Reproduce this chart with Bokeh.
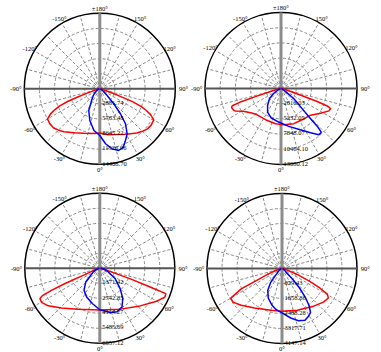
import numpy as np
from bokeh.plotting import figure
from bokeh.models import Range1d
from bokeh.core.properties import value
from bokeh.embed import file_html
from bokeh.resources import INLINE

# ---------------- data (candela vs. gamma angle, degrees) ----------------
labels_1 = ["2881.74", "5763.48", "8645.22", "11526.96", "14408.70"]
ang_red_1 = [-90, -80, -76, -73, -71, -69.5, -68.5, -67, -65, -63, -60, -55, -50, -45, -40, -30, -20, -10, 0,
             10, 20, 30, 40, 45, 50, 55, 60, 63, 65, 67, 68.5, 69.5, 71, 73, 76, 80, 90]
cd_red_1 = [140, 350, 600, 1200, 2560, 4500, 6500, 8300, 9500, 10550, 11530, 11640, 11550, 11150, 10700, 9700, 9050, 8650, 8450,
            8900, 9300, 10000, 11000, 11480, 11900, 12000, 11880, 10870, 9800, 8550, 6700, 4650, 2640, 1240, 620, 360, 140]
ang_blue_1 = [-90, -75, -60, -50, -45, -37.5, -27, -17.5, -8, 0, 6, 11.6, 17, 22, 26.4, 31.3, 36.3, 39.6, 43, 47.7, 55, 65, 90]
cd_blue_1 = [100, 300, 700, 1300, 1700, 2400, 4640, 6340, 8030, 8910, 10550, 11700, 12310, 11990, 11010, 10060, 8280, 6180,
             3910, 1890, 900, 400, 100]

labels_2 = ["2616.03", "5232.05", "7848.07", "10464.10", "13080.12"]
ang_red_2 = [-90, -82, -77, -74, -72.5, -71.5, -70.5, -69, -66, -64, -59, -50, -43, -34, -24, -9, 4, 20, 34, 48, 58, 65, 68,
             69.3, 70.3, 71.3, 73, 77, 82, 90]
cd_red_2 = [150, 300, 800, 2000, 4500, 7500, 8900, 9110, 9000, 8800, 7570, 6580, 6130, 5990, 5990, 6150, 6250, 6440, 6480,
            6860, 8020, 9110, 9210, 8500, 6500, 3500, 1500, 600, 300, 150]
ang_blue_2 = [-90, -70, -56, -48.6, -38.7, -29.7, -19, -4, 11.5, 25, 33.7, 39.3, 42.7, 43.7, 44.4, 46.4, 51.7, 54, 60, 90]
cd_blue_2 = [100, 400, 1540, 2620, 3690, 4660, 5320, 5790, 6650, 7850, 9160, 10300, 10220, 9180, 7270, 5020, 2790, 1280, 500, 100]

labels_3 = ["1371.42", "2742.85", "4114.27", "5485.69", "6857.12"]
ang_red_3 = [-90, -80, -72, -69, -67, -66.3, -65.5, -64.5, -63.2, -59.6, -54, -44, -28, 0, 27, 47, 60, 66, 69, 69.6, 71, 72,
             75, 80, 90]
cd_red_3 = [60, 150, 500, 900, 1540, 3520, 4860, 5800, 6130, 6170, 5840, 5040, 4240, 3820, 4190, 5040, 6010, 6500, 6470, 4910,
            2960, 1360, 500, 200, 60]
ang_blue_3 = [-90, -70, -60, -51.8, -45.7, -35.6, -24.7, -12, 0, 13.6, 22, 30, 37.3, 45, 55.8, 66, 80, 90]
cd_blue_3 = [50, 300, 700, 1070, 1800, 2480, 2880, 3290, 3790, 4150, 4280, 4060, 3470, 2630, 1710, 880, 360, 100]

labels_4 = ["829.43", "1658.86", "2488.28", "3317.71", "4147.14"]
ang_red_4 = [-90, -80, -72, -67.8, -64.5, -63.4, -60, -55.6, -48, -35, -15, 0, 20, 40, 51, 57.5, 60.5, 62.6, 65, 68.6, 72, 80, 90]
cd_red_4 = [40, 100, 400, 860, 1690, 2520, 3270, 3290, 3040, 2660, 2390, 2360, 2460, 2720, 2950, 3040, 2880, 2370, 1720, 900,
            300, 100, 40]
ang_blue_4 = [-90, -60, -50, -45, -42, -39, -33, -25, -16, -8, 0, 10, 17.5, 24, 29, 33, 36, 39, 42, 45, 48, 60, 90]
cd_blue_4 = [40, 150, 300, 400, 650, 1000, 1450, 1800, 2080, 2300, 2450, 2780, 3030, 3130, 3020, 2900, 2550, 2050, 1450, 800,
             300, 150, 40]

angle_ticks = [0, 30, 60, 90, 120, 150, 180, -150, -120, -90, -60, -30]
angle_texts = ["0°", "30°", "60°", "90°", "120°", "150°", "±180°", "-150°", "-120°", "-90°", "-60°", "-30°"]

FONT = value("Liberation Serif")
W, H = 381, 352

p = figure(width=W, height=H, output_backend="svg", toolbar_location=None, tools="",
           x_axis_location=None, y_axis_location=None, title=None, min_border=0,
           x_range=Range1d(0, W), y_range=Range1d(H, 0))
p.outline_line_color = None
p.background_fill_color = "white"
p.border_fill_color = "white"
p.xgrid.visible = False
p.ygrid.visible = False


def polar(cx, cy, R, ang, r):
    t = np.radians(np.asarray(ang, dtype=float))
    r = np.asarray(r, dtype=float) * R
    return cx + r * np.sin(t), cy + r * np.cos(t)


def panel(cx, cy, R, labels, ang_red, cd_red, ang_blue, cd_blue):
    rmax = float(labels[-1])
    rings = [float(s) / rmax for s in labels]

    # spokes every 15 degrees
    xs, ys = [], []
    for a in range(0, 360, 15):
        if a % 90 == 0:
            continue
        x1, y1 = polar(cx, cy, R, [a], [1.0])
        xs.append([cx, float(x1[0])])
        ys.append([cy, float(y1[0])])
    p.multi_line(xs, ys, line_color="#8a8a8a", line_dash="3 2", line_width=1)
    # dashed rings
    p.circle(x=[cx] * 4, y=[cy] * 4, radius=[r * R for r in rings[:-1]], fill_color=None,
             line_color="#8a8a8a", line_dash="3 2", line_width=1)
    # outer ring
    p.circle(x=[cx], y=[cy], radius=[rings[-1] * R], fill_color=None, line_color="black", line_width=1.5)
    # axes
    p.line([cx, cx], [cy - R, cy + R], line_color="#8c8c8c", line_width=3)
    p.line([cx - R, cx + R], [cy, cy], line_color="#555555", line_width=2)

    # curves
    xr, yr = polar(cx, cy, R, ang_red, np.array(cd_red) / rmax)
    p.line(xr, yr, line_color="#ff0000", line_width=1.5)
    xb, yb = polar(cx, cy, R, ang_blue, np.array(cd_blue) / rmax)
    p.line(xb, yb, line_color="#0000ff", line_width=1.5)

    # ring labels
    p.text(x=[cx + 2.5] * 5, y=[cy + r * R - 0.8 for r in rings], text=labels, text_font=FONT,
           text_font_size="6.5px", text_color="#000000", text_align="left", text_baseline="middle")

    # angle labels
    rad = [1.11 if abs(a) == 90 else 1.07 for a in angle_ticks]
    xa, ya = polar(cx, cy, R, angle_ticks, rad)
    p.text(x=list(xa), y=list(ya), text=angle_texts, text_font=FONT, text_font_size="6.5px",
           text_color="#000000", text_align="center", text_baseline="middle")


panel(99.3, 88.3, 75.5, labels_1, ang_red_1, cd_red_1, ang_blue_1, cd_blue_1)
panel(280.5, 88.0, 76.0, labels_2, ang_red_2, cd_red_2, ang_blue_2, cd_blue_2)
panel(99.3, 267.8, 75.0, labels_3, ang_red_3, cd_red_3, ang_blue_3, cd_blue_3)
panel(281.5, 268.0, 75.0, labels_4, ang_red_4, cd_red_4, ang_blue_4, cd_blue_4)

open("out.html", "w").write(file_html(p, INLINE))
